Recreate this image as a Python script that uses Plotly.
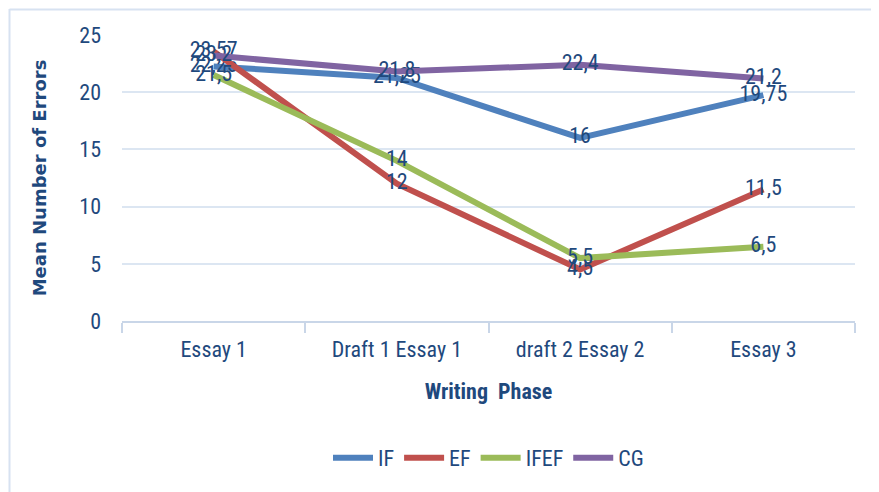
import plotly.graph_objects as go

categories = ["Essay 1", "Draft 1 Essay 1", "draft 2 Essay 2", "Essay 3"]
series_names = ["IF", "EF", "IFEF", "CG"]
IF = [22.25, 21.25, 16, 19.75]
EF = [23.57, 12, 4.5, 11.5]
IFEF = [21.5, 14, 5.5, 6.5]
CG = [23.2, 21.8, 22.4, 21.2]
colors = ["#4F81BD", "#C0504D", "#9BBB59", "#8064A2"]

txt_color = "#1F497D"
font_main = "Liberation Sans Narrow, Arial Narrow, Roboto Condensed, Liberation Sans, sans-serif"

W, H = 879, 492
OFF = 8  # page body margin
L, R, T, B = 122 - OFF, 24 + OFF, 35 - OFF, 171 + OFF

fig = go.Figure()
for name, vals, col in zip(series_names, [IF, EF, IFEF, CG], colors):
    fig.add_trace(go.Scatter(
        x=categories, y=vals, name=name, mode="lines+text",
        line=dict(color=col, width=6),
        text=[("%g" % v).replace(".", ",") for v in vals],
        textposition="middle center",
        textfont=dict(family=font_main, size=22, color=txt_color),
        cliponaxis=False,
    ))

pw = W - L - R
ph = H - T - B
def px_x(p):
    return (p - OFF - L) / pw
def px_y(p):
    return (H - B - (p - OFF)) / ph

frame_col = "#D7E2F1"
fig.add_shape(type="line", xref="paper", yref="paper",
              x0=px_x(9.5), x1=px_x(9.5), y0=px_y(520), y1=px_y(9),
              line=dict(color=frame_col, width=2), layer="below")
fig.add_shape(type="line", xref="paper", yref="paper",
              x0=px_x(9.5), x1=px_x(900), y0=px_y(9.5), y1=px_y(9.5),
              line=dict(color=frame_col, width=2), layer="below")

fig.update_layout(
    width=W, height=H,
    margin=dict(l=L, r=R, t=T, b=B),
    paper_bgcolor="white", plot_bgcolor="white",
    font=dict(family=font_main, color=txt_color, size=22),
    showlegend=True,
    legend=dict(orientation="h", x=0.5, xanchor="center", y=px_y(458), yanchor="middle",
                font=dict(size=22, color=txt_color, family=font_main),
                itemwidth=40, tracegroupgap=0, itemclick=False),
    xaxis=dict(
        type="category", range=[-0.5, 3.5],
        showgrid=False, showline=True, linecolor="#C9D6E8", linewidth=1.5,
        ticks="outside", tickson="boundaries", ticklen=10, tickcolor="#C9D6E8", tickwidth=1.5,
        ticklabelstandoff=8,
        tickfont=dict(size=22, color=txt_color, family=font_main),
        title=dict(text="<b>Writing  Phase</b>", standoff=22,
                   font=dict(size=22, color=txt_color, family=font_main)),
        zeroline=False,
    ),
    yaxis=dict(
        range=[0, 25], dtick=5, tick0=0,
        showgrid=True, gridcolor="#DCE6F2", gridwidth=1.5,
        zeroline=False, showline=False,
        ticks="", ticklabelstandoff=20,
        tickfont=dict(size=22, color=txt_color, family=font_main),
        title=dict(text="<b>Mean Number of Errors</b>", standoff=27,
                   font=dict(size=18, color=txt_color, family="DejaVu Sans, Verdana, sans-serif")),
    ),
)

fig.write_html("out.html")
